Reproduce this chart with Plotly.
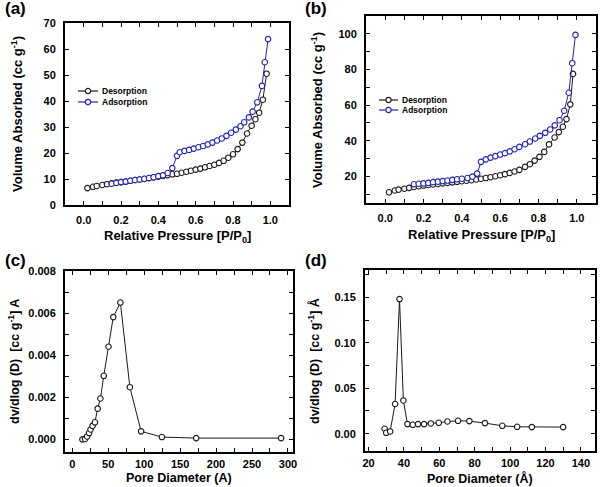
import plotly.graph_objects as go

# ---------------- data ----------------
# (a) isotherm
a_des_x = [0.02, 0.05, 0.07, 0.10, 0.125, 0.15, 0.175, 0.20, 0.225, 0.25, 0.275, 0.30, 0.325, 0.35,
           0.375, 0.40, 0.425, 0.45, 0.475, 0.50, 0.525, 0.55, 0.575, 0.60, 0.625, 0.65, 0.675, 0.70,
           0.725, 0.75, 0.775, 0.80, 0.825, 0.85, 0.875, 0.90, 0.92, 0.94, 0.96, 0.98]
a_des_y = [6.5, 7.0, 7.3, 7.7, 8.0, 8.3, 8.6, 8.8, 9.0, 9.3, 9.6, 9.8, 10.0, 10.3, 10.6, 10.9, 11.2,
           11.5, 11.8, 12.0, 12.4, 12.8, 13.2, 13.6, 14.0, 14.5, 15.0, 15.5, 16.2, 17.0, 18.2, 19.5,
           21.5, 24.0, 27.5, 30.5, 33.0, 35.5, 40.5, 50.5]
a_ads_x = [0.15, 0.175, 0.20, 0.225, 0.25, 0.275, 0.30, 0.325, 0.35, 0.375, 0.40, 0.425, 0.45, 0.475,
           0.50, 0.515, 0.54, 0.565, 0.59, 0.615, 0.64, 0.665, 0.69, 0.715, 0.74, 0.765, 0.79, 0.815,
           0.84, 0.86, 0.885, 0.905, 0.93, 0.955, 0.97, 0.988]
a_ads_y = [8.2, 8.5, 8.8, 9.0, 9.3, 9.6, 9.8, 10.1, 10.4, 10.7, 11.1, 11.4, 12.3, 14.2, 18.9, 20.3,
           20.8, 21.2, 21.7, 22.2, 22.7, 23.3, 24.0, 24.8, 25.6, 26.6, 27.8, 29.0, 30.3, 31.8, 33.7,
           35.9, 39.5, 45.8, 54.9, 63.8]

# (b) isotherm
b_des_x = [0.02, 0.05, 0.07, 0.10, 0.125, 0.15, 0.175, 0.20, 0.225, 0.25, 0.275, 0.30, 0.325, 0.35,
           0.375, 0.40, 0.425, 0.45, 0.475, 0.50, 0.525, 0.55, 0.575, 0.60, 0.625, 0.65, 0.675, 0.70,
           0.73, 0.755, 0.78, 0.805, 0.83, 0.855, 0.884, 0.906, 0.927, 0.946, 0.966, 0.98]
b_des_y = [11.0, 12.0, 12.5, 13.0, 13.5, 14.0, 14.4, 14.8, 15.1, 15.4, 15.7, 16.0, 16.3, 16.6, 16.9,
           17.2, 17.5, 17.8, 18.2, 18.6, 19.0, 19.5, 20.0, 20.6, 21.2, 21.9, 22.7, 23.6, 25.3, 26.8,
           28.8, 30.9, 33.7, 37.9, 41.8, 44.8, 47.8, 52.1, 60.4, 77.5]
b_ads_x = [0.15, 0.175, 0.20, 0.225, 0.25, 0.275, 0.30, 0.325, 0.35, 0.375, 0.40, 0.43, 0.455, 0.48,
           0.50, 0.525, 0.55, 0.575, 0.60, 0.625, 0.65, 0.675, 0.70, 0.73, 0.755, 0.783, 0.807, 0.835,
           0.861, 0.885, 0.91, 0.934, 0.958, 0.976, 0.993]
b_ads_y = [15.5, 15.8, 16.0, 16.3, 16.7, 17.0, 17.3, 17.6, 18.0, 18.3, 18.6, 19.0, 19.8, 21.5, 28.1,
           29.5, 30.5, 31.3, 32.2, 33.0, 34.0, 35.2, 36.5, 38.0, 39.5, 41.2, 42.7, 44.4, 46.3, 48.6,
           51.5, 56.8, 66.9, 83.5, 99.4]

# (c) pore size distribution
c_x = [14.2, 17.9, 20.7, 23.5, 25.5, 28.3, 31.6, 35.4, 39.2, 43.9, 50.5, 57.1, 67.0, 80.2, 95.8,
       124.7, 172.4, 290.5]
c_y = [0.0, 0.00002, 0.00014, 0.0003, 0.00047, 0.00064, 0.00081, 0.00146, 0.00194, 0.00302, 0.0044,
       0.00581, 0.00650, 0.00248, 0.00038, 0.00011, 0.00006, 0.00006]

# (d) pore size distribution
d_x = [29.1, 30.0, 32.2, 35.0, 37.5, 39.7, 42.0, 45.0, 48.0, 51.4, 55.2, 59.7, 64.6, 70.6, 77.0,
       85.8, 95.6, 104.0, 112.3, 130.0]
d_y = [0.0055, 0.001, 0.0025, 0.0327, 0.148, 0.0366, 0.0106, 0.0098, 0.0106, 0.0106, 0.0113, 0.012,
       0.0134, 0.0142, 0.0139, 0.0117, 0.0087, 0.0076, 0.0073, 0.0073]

legend_names = ["Desorption", "Adsorption"]
panel_labels = ["(a)", "(b)", "(c)", "(d)"]

# ---------------- style ----------------
W, H = 600, 487
BLACK = "#1a1a1a"
BLUE = "#1f23b4"
FONT = "Liberation Sans"


def px_x(p):
    return p / W


def px_y(p):
    return 1 - p / H


def marker(color):
    return dict(symbol="circle", size=5.5, color="white", line=dict(color=color, width=1.1))


fig = go.Figure()

series = [
    (a_des_x, a_des_y, BLACK, "x", "y", legend_names[0]),
    (a_ads_x, a_ads_y, BLUE, "x", "y", legend_names[1]),
    (b_des_x, b_des_y, BLACK, "x2", "y2", legend_names[0]),
    (b_ads_x, b_ads_y, BLUE, "x2", "y2", legend_names[1]),
    (c_x, c_y, BLACK, "x3", "y3", "PSD"),
    (d_x, d_y, BLACK, "x4", "y4", "PSD"),
]
for xs, ys, col, xa, ya, nm in series:
    fig.add_trace(go.Scatter(x=xs, y=ys, mode="lines+markers", name=nm, showlegend=False,
                             line=dict(color=col, width=1), marker=marker(col),
                             xaxis=xa, yaxis=ya))

tickfont = dict(family=FONT, size=11, color="black", weight="bold")


def axis(domain, rng, dtick, minor_dtick, anchor, fmt=None, standoff=5):
    d = dict(domain=domain, range=rng, dtick=dtick, tick0=0,
             showline=True, linewidth=2, linecolor="black", mirror="allticks",
             ticks="inside", ticklen=4, tickwidth=1.3, tickcolor="black",
             showgrid=False, zeroline=False, tickfont=tickfont, anchor=anchor,
             automargin=False, ticklabelstandoff=standoff)
    if minor_dtick:
        d["minor"] = dict(dtick=minor_dtick, ticks="inside", ticklen=4, tickwidth=1.3,
                          tickcolor="black", showgrid=False, tick0=0)
    if fmt:
        d["tickformat"] = fmt
    return d


fig.update_layout(
    width=W, height=H,
    margin=dict(l=0, r=0, t=0, b=0),
    paper_bgcolor="white", plot_bgcolor="white",
    template="none",
    showlegend=False,
    font=dict(family=FONT, color="black"),
    xaxis=axis([px_x(65), px_x(289)], [-0.1, 1.1], 0.2, 0.1, "y", fmt=".1f", standoff=4),
    yaxis=axis([px_y(205), px_y(23)], [0, 70], 10, None, "x", standoff=5),
    xaxis2=axis([px_x(366), px_x(596)], [-0.1, 1.1], 0.2, 0.1, "y2", fmt=".1f", standoff=4),
    yaxis2=axis([px_y(203), px_y(16)], [5, 110], 20, 10, "x2", standoff=5),
    xaxis3=axis([px_x(65), px_x(293)], [-10, 307], 50, 25, "y3", standoff=1),
    yaxis3=axis([px_y(452), px_y(271)], [-0.0006, 0.008], 0.002, 0.001, "x3", fmt=".3f", standoff=5),
    xaxis4=axis([px_x(365), px_x(595)], [18, 148], 20, 10, "y4", standoff=1),
    yaxis4=axis([px_y(451), px_y(270)], [-0.019, 0.18], 0.05, 0.025, "x4", fmt=".2f", standoff=5),
)

# hand-drawn legends (legend keys, not data marks)
legend_spec = [
    (78, 98, 100, [91, 102]),
    (379, 398, 400, [100, 110]),
]
for lx0, lx1, tx, rows in legend_spec:
    for (name, col), ry in zip([(legend_names[0], BLACK), (legend_names[1], BLUE)], rows):
        fig.add_shape(type="line", xref="paper", yref="paper",
                      x0=px_x(lx0), x1=px_x(lx1), y0=px_y(ry), y1=px_y(ry),
                      line=dict(color=col, width=1.2))
        cx = (lx0 + lx1) / 2
        fig.add_shape(type="circle", xref="paper", yref="paper",
                      x0=px_x(cx - 2.6), x1=px_x(cx + 2.6), y0=px_y(ry + 2.6), y1=px_y(ry - 2.6),
                      line=dict(color=col, width=1.1), fillcolor="white")
        fig.add_annotation(xref="paper", yref="paper", showarrow=False, text=name,
                           x=px_x(tx), y=px_y(ry), xanchor="left", yanchor="middle",
                           font=dict(family=FONT, size=8.5, color="black", weight="bold"))

title_font = dict(family=FONT, size=13, color="black", weight="bold")
annots = [
    dict(text="Volume Absorbed (cc g<sup>-1</sup>)", x=px_x(17), y=px_y(114), textangle=-90, size=13),
    dict(text="Relative Pressure [P/P<sub>0</sub>]", x=px_x(177), y=px_y(236), size=13),
    dict(text="Volume Absorbed (cc g<sup>-1</sup>)", x=px_x(317), y=px_y(110), textangle=-90, size=13),
    dict(text="Relative Pressure [P/P<sub>0</sub>]", x=px_x(481), y=px_y(235), size=13),
    dict(text="dv/dlog (D)  [cc g<sup>-1</sup>] A", x=px_x(14), y=px_y(362), textangle=-90, size=12.5),
    dict(text="Pore Diameter (A)", x=px_x(179), y=px_y(478), size=12.5),
    dict(text="dv/dlog (D)  [cc g<sup>-1</sup>] Å", x=px_x(314), y=px_y(361), textangle=-90, size=12.5),
    dict(text="Pore Diameter (Å)", x=px_x(480), y=px_y(478), size=12.5),
]
for a in annots:
    sz = a.pop("size")
    fig.add_annotation(xref="paper", yref="paper", showarrow=False,
                       font=dict(family=FONT, size=sz, color="black", weight="bold"),
                       xanchor="center", yanchor="middle", **a)

label_pos = [(3, 9), (303, 8), (3, 260), (303, 260)]
for lab, (lx, ly) in zip(panel_labels, label_pos):
    fig.add_annotation(xref="paper", yref="paper", showarrow=False, text=lab,
                       x=px_x(lx), y=px_y(ly), xanchor="left", yanchor="middle",
                       font=dict(family=FONT, size=17, color="black", weight="bold"))

fig.write_html("out.html", config={"displayModeBar": False},
               post_script="document.body.style.margin='0';")
